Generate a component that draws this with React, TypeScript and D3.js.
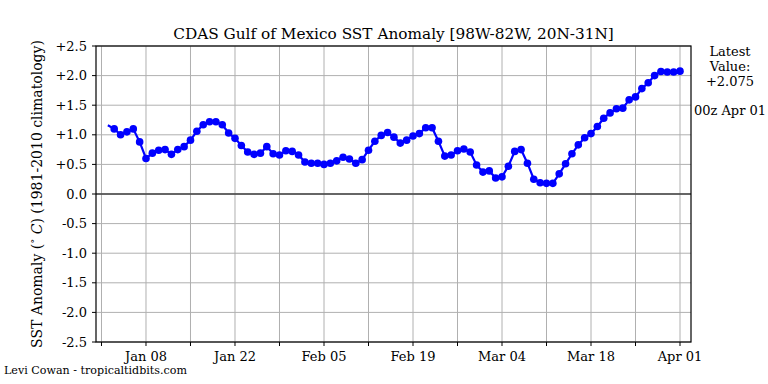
import React from "react";
import * as d3 from "d3";

const title = "CDAS Gulf of Mexico SST Anomaly [98W-82W, 20N-31N]";
const yLabelA = "SST Anomaly (";
const yLabelDeg = "°";
const yLabelC = "C";
const yLabelB = ") (1981-2010 climatology)";
const credit = "Levi Cowan - tropicaltidbits.com";
const latestLines = ["Latest", "Value:", "+2.075"];
const latestTime = "00z Apr 01";

const startDate = "2024-01-02";
const anomalies = [
  1.16, 1.10, 1.00, 1.05, 1.10, 0.88, 0.60, 0.69, 0.74, 0.75,
  0.67, 0.75, 0.80, 0.91, 1.06, 1.17, 1.22, 1.22, 1.17, 1.03,
  0.94, 0.82, 0.71, 0.67, 0.69, 0.80, 0.68, 0.66, 0.73, 0.72,
  0.66, 0.54, 0.52, 0.52, 0.50, 0.52, 0.56, 0.62, 0.59, 0.52,
  0.58, 0.74, 0.89, 0.99, 1.04, 0.96, 0.86, 0.91, 0.98, 1.02,
  1.12, 1.12, 0.89, 0.64, 0.66, 0.73, 0.76, 0.71, 0.49, 0.37,
  0.39, 0.27, 0.29, 0.47, 0.72, 0.75, 0.52, 0.25, 0.19, 0.18,
  0.18, 0.34, 0.51, 0.68, 0.83, 0.95, 1.02, 1.14, 1.28, 1.37,
  1.44, 1.45, 1.59, 1.64, 1.78, 1.88, 2.00, 2.07, 2.06, 2.06,
  2.075,
];
const yTicks = [-2.5, -2.0, -1.5, -1.0, -0.5, 0.0, 0.5, 1.0, 1.5, 2.0, 2.5];
const xTickDates = [
  "2024-01-01", "2024-01-08", "2024-01-15", "2024-01-22", "2024-01-29",
  "2024-02-05", "2024-02-12", "2024-02-19", "2024-02-26", "2024-03-04",
  "2024-03-11", "2024-03-18", "2024-03-25", "2024-04-01",
];
const xLabelDates = ["2024-01-08", "2024-01-22", "2024-02-05", "2024-02-19", "2024-03-04", "2024-03-18", "2024-04-01"];
const xDomain = ["2023-12-31T03:15:00Z", "2024-04-02T17:30:00Z"];

const FONT = "'DejaVu Serif', serif";

export default function App() {
  const W = 768, H = 384;
  const left = 96, right = 691, top = 46, bottom = 342;
  const parse = (s: string) => new Date(s.length === 10 ? s + "T00:00:00Z" : s);
  const x = d3.scaleUtc().domain(xDomain.map(parse)).range([left, right]);
  const y = d3.scaleLinear().domain([-2.5, 2.5]).range([bottom, top]);
  const t0 = parse(startDate);
  const data = anomalies.map((v, i) => ({ date: new Date(t0.getTime() + i * 86400000), v }));
  const line = d3.line<{ date: Date; v: number }>().x(d => x(d.date)).y(d => y(d.v));
  const fmt = d3.utcFormat("%b %d");
  const fmtY = (v: number) => (v > 0 ? "+" : "") + v.toFixed(1);

  return (
    <svg width={W} height={H} style={{ position: "absolute", left: 0, top: 0, background: "#fff" }}>
      <rect x={0} y={0} width={W} height={H} fill="#fff" />
      {/* grid */}
      {xTickDates.map(d => (
        <line key={"gx" + d} x1={x(parse(d))} x2={x(parse(d))} y1={top} y2={bottom} stroke="#b0b0b0" strokeWidth={1} />
      ))}
      {yTicks.map(t => (
        <line key={"gy" + t} x1={left} x2={right} y1={y(t)} y2={y(t)} stroke="#b0b0b0" strokeWidth={1} />
      ))}
      <line x1={left} x2={right} y1={y(0)} y2={y(0)} stroke="#404040" strokeWidth={1.3} />
      {/* data */}
      <path d={line(data) || ""} fill="none" stroke="#0000ff" strokeWidth={2.2} />
      {data.slice(1).map((d, i) => (
        <circle key={i} cx={x(d.date)} cy={y(d.v)} r={3.8} fill="#0000ff" />
      ))}
      {/* frame */}
      <rect x={left} y={top} width={right - left} height={bottom - top} fill="none" stroke="#000" strokeWidth={1.2} />
      {/* y ticks */}
      {yTicks.map(t => (
        <g key={"ty" + t}>
          <line x1={left - 4} x2={left} y1={y(t)} y2={y(t)} stroke="#000" strokeWidth={1} />
          <text x={left - 9} y={y(t)} dy="0.36em" textAnchor="end" fontFamily={FONT} fontSize={13} fill="#000">{fmtY(t)}</text>
        </g>
      ))}
      {/* x ticks */}
      {xTickDates.map(d => (
        <line key={"tx" + d} x1={x(parse(d))} x2={x(parse(d))} y1={bottom} y2={bottom + 4} stroke="#000" strokeWidth={1} />
      ))}
      {xLabelDates.map(d => (
        <text key={"lx" + d} x={x(parse(d))} y={bottom + 19} textAnchor="middle" fontFamily={FONT} fontSize={13} fill="#000">{fmt(parse(d))}</text>
      ))}
      {/* title */}
      <text x={(left + right) / 2} y={39} textAnchor="middle" fontFamily={FONT} fontSize={15.3} fill="#000">{title}</text>
      {/* y label */}
      <text transform={`translate(${42},${(top + bottom) / 2}) rotate(-90)`} textAnchor="middle" fontFamily={FONT} fontSize={14} fill="#000">
        {yLabelA}
        <tspan dy={-4} fontSize={10}>{yLabelDeg}</tspan>
        <tspan dy={4} fontStyle="italic">{" " + yLabelC}</tspan>
        {yLabelB}
      </text>
      {/* latest */}
      {latestLines.map((s, i) => (
        <text key={s} x={730} y={56 + i * 15} textAnchor="middle" fontFamily={FONT} fontSize={13} fill="#000">{s}</text>
      ))}
      <text x={730} y={115} textAnchor="middle" fontFamily={FONT} fontSize={13} fill="#000">{latestTime}</text>
      {/* credit */}
      <text x={4} y={374} fontFamily={FONT} fontSize={10.5} textLength={183} lengthAdjust="spacingAndGlyphs" fill="#000">{credit}</text>
    </svg>
  );
}
